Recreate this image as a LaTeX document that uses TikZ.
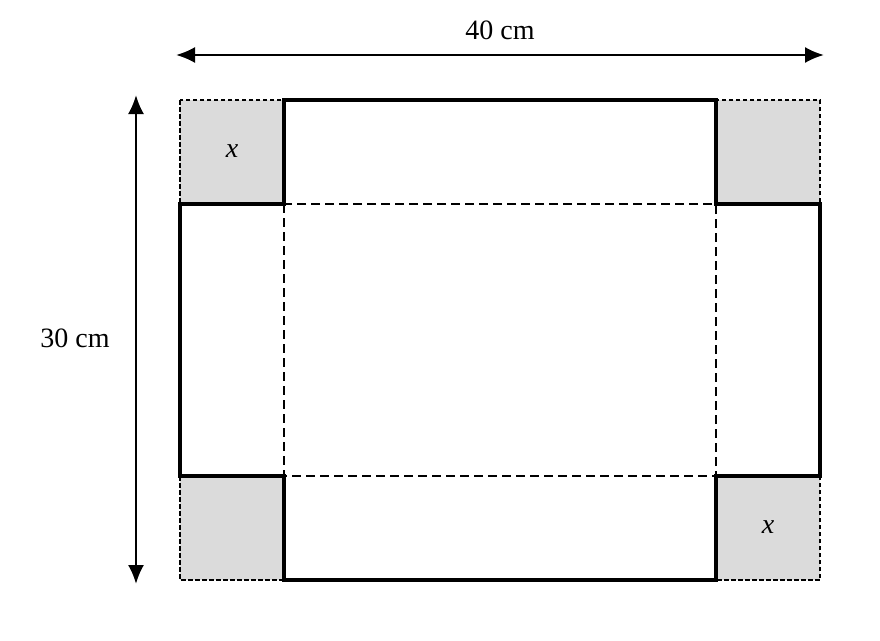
\documentclass[tikz,border=0pt]{standalone}
\usepackage{fontspec}
\setmainfont{Liberation Serif}
\usetikzlibrary{arrows.meta}

\tikzset{
  flap/.style={line width=3.2pt},
  fold/.style={line width=2.8pt,dash pattern=on 9pt off 5pt},
  cutout/.style={fill=gray!28,draw,line width=2.6pt,dash pattern=on 4.5pt off 2.5pt},
  measure/.style={<->,line width=2.2pt},
  lbl/.style={font=\fontsize{28}{32}\selectfont}
}

\begin{document}
\begin{tikzpicture}[x=1pt,y=-1pt,>={Latex[length=19pt,width=16pt]}]
            \useasboundingbox (0,0) rectangle (880,640);
            % cut-out corners
            \draw[cutout] (180,100) rectangle (284,204);
            \draw[cutout] (716,100) rectangle (820,204);
            \draw[cutout] (180,476) rectangle (284,580);
            \draw[cutout] (716,476) rectangle (820,580);
            % fold lines
            \draw[fold] (284,204) rectangle (716,476);
            % outline of the net
            \draw[flap] (284,100) -- (716,100) -- (716,204) -- (820,204) -- (820,476) -- (716,476)
                -- (716,580) -- (284,580) -- (284,476) -- (180,476) -- (180,204) -- (284,204) -- cycle;
            \node[lbl] (xa) at (232,151) {\textit{x}};
            \node[lbl] (xb) at (768,527) {\textit{x}};
            % dimensions
            \coordinate (wl) at (176,55);
            \coordinate (wr) at (824,55);
            \coordinate (ht) at (136,95);
            \coordinate (hb) at (136,584);
            \draw[measure] (wl) -- (wr);
            \draw[measure] (ht) -- (hb);
            \node[lbl] (width) at (500,30) {40 cm};
            \node[lbl] (height) at (75,338) {30 cm};
        \end{tikzpicture}
\end{document}
